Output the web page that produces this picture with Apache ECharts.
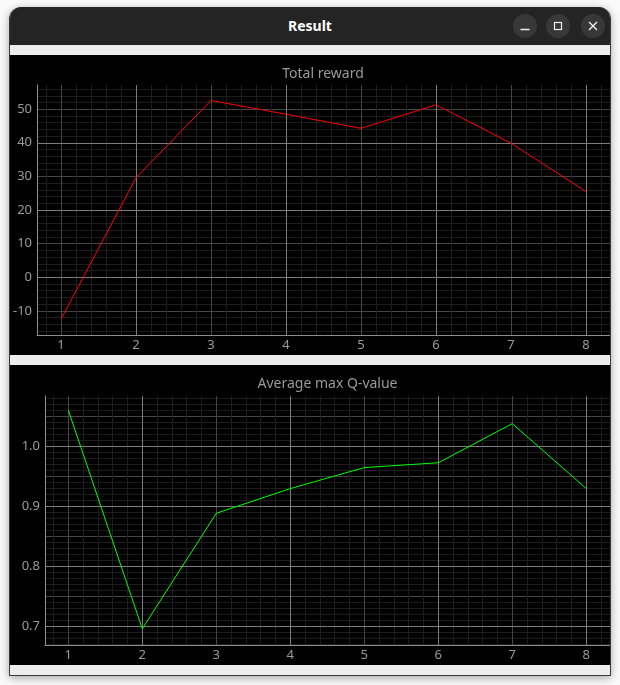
<!DOCTYPE html>
<html lang="en">
<head>
<meta charset="UTF-8">
<title>Result</title>
<script src="https://cdn.jsdelivr.net/npm/echarts@6/dist/echarts.min.js"></script>
<style>
    * { margin: 0; padding: 0; box-sizing: border-box; }
    body { background: #fafafa; width: 620px; height: 685px; overflow: hidden; font-family: "Noto Sans", "DejaVu Sans", sans-serif; }
    .win {
        position: absolute; left: 9px; top: 7px; width: 602px; height: 669px;
        background: #ededed; border-radius: 12px 12px 0 0;
        box-shadow: 0 2px 9px rgba(0,0,0,0.35);
        border: 1px solid #3a3a3a; border-top: none;
        overflow: hidden;
    }
    .bar {
        height: 38px; background: #242424; color: #fff; position: relative;
        font-weight: bold; font-size: 14px; text-align: center; line-height: 38px;
    }
    .btn { position: absolute; top: 7px; width: 24px; height: 24px; border-radius: 50%; background: #383838; }
    .btn svg { position: absolute; left: 0; top: 0; }
    .panel { position: absolute; left: 0; width: 600px; height: 300px; background: #000; }
</style>
</head>
<body>
<div class="win">
    <div class="bar">Result
        <div class="btn" style="left:503px"><svg width="24" height="24"><line x1="7.5" y1="15.5" x2="16.5" y2="15.5" stroke="#eee" stroke-width="1.3"/></svg></div>
        <div class="btn" style="left:536px"><svg width="24" height="24"><rect x="8.5" y="8.5" width="7" height="7" fill="none" stroke="#eee" stroke-width="1.2"/></svg></div>
        <div class="btn" style="left:571px"><svg width="24" height="24"><path d="M8 8 L16 16 M16 8 L8 16" stroke="#eee" stroke-width="1.4"/></svg></div>
    </div>
    <div class="panel" id="reward" style="top:48px"></div>
    <div class="panel" id="qvalue" style="top:358px"></div>
</div>

<script>
    // values
    var episodes = [1, 2, 3, 4, 5, 6, 7, 8];
    var totalReward = [-12.5, 29.6, 52.6, 48.5, 44.3, 51.3, 39.9, 25.5];
    var avgMaxQ = [1.0595, 0.696, 0.888, 0.929, 0.964, 0.972, 1.037, 0.929];

    var FONT = '"Noto Sans", "DejaVu Sans", sans-serif';
    var BRIGHT = '#7c7c7c', MEDIUM = '#464646', FINE = '#1d1d1d', AXIS = '#8e8e8e', TEXT = '#9a9a9a';
    var PANEL_W = 600;

    function pairs(xs, ys) {
        return xs.map(function (x, i) { return [x, ys[i]]; });
    }

    // one axis per grid level: medium lines carry the fine minor lines, bright lines lie on top
    function levelAxis(dim, min, max, split, color, z, minor, labels, fmt) {
        return {
            type: 'value', min: min, max: max, splitNumber: split, z: z,
            position: dim === 'x' ? 'bottom' : 'left',
            axisLine: { show: !!labels, onZero: false, lineStyle: { color: AXIS, width: 1 } },
            axisTick: { show: false },
            axisLabel: {
                show: !!labels, color: TEXT, fontSize: 13, fontFamily: FONT,
                margin: dim === 'x' ? 4 : 5, showMinLabel: false, showMaxLabel: false,
                formatter: fmt
            },
            splitLine: { show: true, showMinLine: false, showMaxLine: false, lineStyle: { color: color, width: 1 } },
            minorTick: { show: false, splitNumber: minor || 5 },
            minorSplitLine: { show: !!minor, lineStyle: { color: FINE, width: 1 } }
        };
    }

    function draw(id, title, grid, xr, yAxes, values, color) {
        var chart = echarts.init(document.getElementById(id));
        // title sits centred over the plot area, not the whole panel
        var mid = grid.left + (PANEL_W - grid.left - grid.right) / 2;
        chart.setOption({
            animation: false,
            backgroundColor: '#000',
            title: {
                text: title, left: mid, top: 7, textAlign: 'center', padding: [5, 0, 5, 0],
                textStyle: { color: TEXT, fontSize: 14, fontWeight: 'normal', fontFamily: FONT }
            },
            grid: grid,
            xAxis: [
                levelAxis('x', xr[0], xr[1], 8, MEDIUM, 1, 5, true),
                levelAxis('x', xr[0], xr[1], 4, BRIGHT, 2, 0, false)
            ],
            yAxis: yAxes,
            series: [{
                type: 'line', xAxisIndex: 0, yAxisIndex: 0, z: 10,
                showSymbol: false, clip: true,
                lineStyle: { color: color, width: 1 },
                data: pairs(episodes, values)
            }]
        });
    }

    draw('reward', 'Total reward',
        { left: 26, right: 0, top: 30, bottom: 20 },
        [0.68, 8.32],
        [
            levelAxis('y', -17.2, 57.2, 7, MEDIUM, 1, 5, true),
            levelAxis('y', -17.2, 57.2, 4, BRIGHT, 2, 0, false)
        ],
        totalReward, '#ff0000');

    draw('qvalue', 'Average max Q-value',
        { left: 35, right: 0, top: 31, bottom: 20 },
        [0.685, 8.32],
        [
            levelAxis('y', 0.669, 1.083, 8, MEDIUM, 1, 5, false),
            levelAxis('y', 0.669, 1.083, 4, BRIGHT, 2, 0, true, function (v) { return v.toFixed(1); })
        ],
        avgMaxQ, '#00ff00');
</script>
</body>
</html>
